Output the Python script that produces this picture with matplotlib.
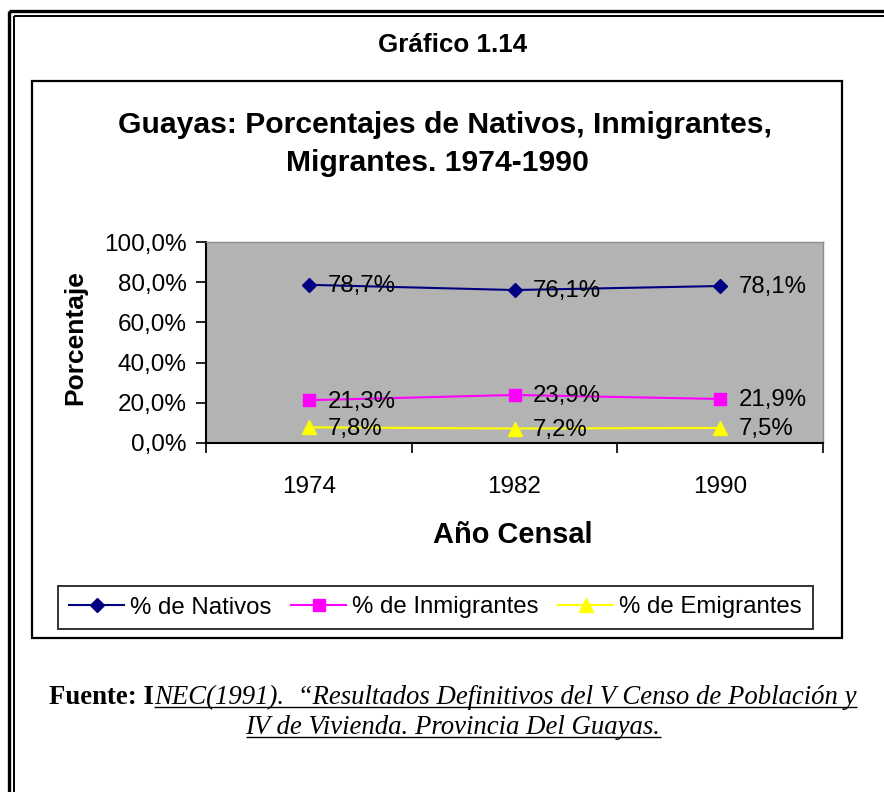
import matplotlib
matplotlib.use("Agg")
import matplotlib.pyplot as plt
from matplotlib.lines import Line2D
from matplotlib.patches import Rectangle

# datos del gráfico
anios = ["1974", "1982", "1990"]
nativos = [78.7, 76.1, 78.1]
inmigrantes = [21.3, 23.9, 21.9]
emigrantes = [7.8, 7.2, 7.5]
series = ["% de Nativos", "% de Inmigrantes", "% de Emigrantes"]
yticks = [0, 20, 40, 60, 80, 100]

W, H = 884, 792
plt.rcParams["font.family"] = ["Liberation Sans", "DejaVu Sans"]

fig = plt.figure(figsize=(W / 100, H / 100), dpi=100)


def fx(px):
    return px / W


def fy(py):
    return 1 - py / H


def linea(xs, ys, lw, color="black"):
    fig.add_artist(Line2D([fx(x) for x in xs], [fy(y) for y in ys], lw=lw, color=color,
                          transform=fig.transFigure, solid_capstyle="butt"))


# marco doble exterior
linea([8.5, 8.5], [11, 800], 2.4)
linea([8.5, 890], [11.2, 11.2], 2.4)
linea([13.8, 13.8], [15.8, 800], 1.4)
linea([13.8, 890], [15.8, 15.8], 1.4)

# recuadro del gráfico
fig.add_artist(Rectangle((fx(32), fy(638)), fx(842) - fx(32), fy(81) - fy(638), fill=False,
                         lw=1.6, edgecolor="black", transform=fig.transFigure))

fig.text(fx(453), fy(45), "Gráfico 1.14", ha="center", va="center", fontsize=18.7, fontweight="bold")
fig.text(fx(445), fy(125), "Guayas: Porcentajes de Nativos, Inmigrantes,", ha="center", va="center",
         fontsize=21.7, fontweight="bold")
fig.text(fx(437), fy(163), "Migrantes. 1974-1990", ha="center", va="center", fontsize=21.7, fontweight="bold")

ax = fig.add_axes([fx(206), fy(443), fx(823) - fx(206), fy(242) - fy(443)])
ax.set_facecolor("#B3B3B3")
x = range(len(anios))
estilos = [("#000080", "D", 7), ("#FF00FF", "s", 8.5), ("#FFFF00", "^", 9.5)]
for vals, nombre, (col, mk, ms) in zip([nativos, inmigrantes, emigrantes], series, estilos):
    ax.plot(x, vals, color=col, marker=mk, markersize=ms, lw=1.5, label=nombre, clip_on=False)
    for xi, v in zip(x, vals):
        ax.annotate(f"{v:.1f}%".replace(".", ","), (xi, v), xytext=(13.5, -1), textcoords="offset points",
                    ha="left", va="center", fontsize=17.3)

ax.set_xlim(-0.5, 2.5)
ax.set_ylim(0, 100)
ax.set_yticks(yticks)
ax.set_yticklabels([f"{t:.1f}%".replace(".", ",") for t in yticks], fontsize=17.5)
ax.set_xticks(list(x))
ax.set_xticklabels(anios, fontsize=17.5)
ax.set_xticks([-0.5, 0.5, 1.5, 2.5], minor=True)
ax.tick_params(axis="x", which="major", length=0, pad=24)
ax.tick_params(axis="x", which="minor", length=7, width=1.2, direction="out")
ax.tick_params(axis="y", length=7, width=1.2, direction="out", pad=7)
for s in ["left", "bottom"]:
    ax.spines[s].set_linewidth(1.5)
for s in ["top", "right"]:
    ax.spines[s].set_color("#8C8C8C")
    ax.spines[s].set_linewidth(1)

fig.text(fx(75), fy(338), "Porcentaje", rotation=90, ha="center", va="center", fontsize=19, fontweight="bold")
fig.text(fx(513), fy(535), "Año Censal", ha="center", va="center", fontsize=20.9, fontweight="bold")

leg = fig.legend(loc="center", bbox_to_anchor=(fx(435.5), fy(607.5)), ncol=3, fontsize=17.3,
                 frameon=True, fancybox=False, edgecolor="black", handlelength=2.3,
                 handletextpad=0.25, columnspacing=0.8, borderpad=0.45)
leg.get_frame().set_linewidth(1.4)

# fuente, con subrayado
ren = fig.canvas.get_renderer()
serif = ["Liberation Serif", "DejaVu Serif"]
tam = 19.3


def renglon(partes, xc, base):
    textos = []
    for txt, peso, estilo, sub in partes:
        t = fig.text(0, fy(base), txt, fontsize=tam, fontweight=peso, style=estilo, family=serif,
                     va="baseline", ha="left")
        textos.append((t, sub))
    anchos = [t.get_window_extent(ren).width for t, _ in textos]
    xi = xc - sum(anchos) / 2
    for (t, sub), a in zip(textos, anchos):
        t.set_x(fx(xi))
        if sub:
            linea([xi, xi + a], [base + 3, base + 3], 1.0)
        xi += a


renglon([("Fuente: I", "bold", "normal", False),
         ("NEC(1991).  \u201cResultados Definitivos del V Censo de Población y", "normal", "italic", True)],
        453, 704)
renglon([("IV de Vivienda. Provincia Del Guayas.", "normal", "italic", True)], 453, 734)

fig.savefig("out.png", dpi=100)
